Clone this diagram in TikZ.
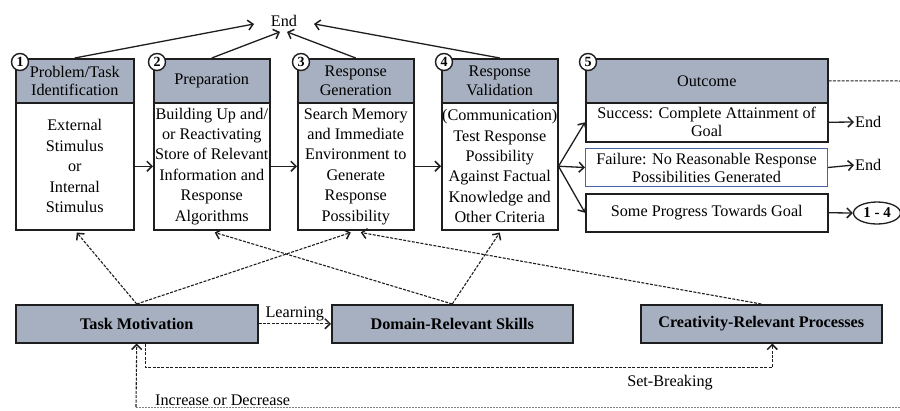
\documentclass[tikz,border=0pt]{standalone}
\usepackage{fontspec}
\setmainfont{Liberation Serif}
\usetikzlibrary{arrows.meta,calc,shapes.geometric}
\definecolor{hdrfill}{RGB}{166,176,192}
\definecolor{ink}{RGB}{30,30,30}
\definecolor{failblue}{RGB}{70,100,165}
\definecolor{faint}{RGB}{130,130,130}
\newcommand{\bodyfont}{\fontsize{16.2}{20.4}\selectfont}
\newcommand{\hdrfont}{\fontsize{16.2}{18.5}\selectfont}
\newcommand{\outfont}{\fontsize{16.2}{18}\selectfont}

\begin{document}
\begin{tikzpicture}[x=1pt,y=-1pt,
  box/.style={draw=ink, line width=1.5pt, anchor=north west, align=center, inner sep=0pt},
  hdr/.style={box, fill=hdrfill, font=\hdrfont},
  stagebody/.style={box, fill=white, font=\bodyfont, minimum height=127pt},
  outbox/.style={box, fill=white, font=\outfont, minimum width=242pt},
  factor/.style={box, fill=hdrfill, font=\bodyfont\bfseries, minimum width=241pt, minimum height=38pt},
  num/.style={circle, draw=ink, fill=white, line width=1.4pt, minimum size=17pt, inner sep=0pt, font=\fontsize{14}{14}\selectfont\bfseries},
  lbl/.style={font=\bodyfont, inner sep=1pt},
  tip/.tip={Straight Barb[length=5pt,width=10pt,line width=1.5pt]},
  arr/.style={draw=ink, line width=1.3pt, -tip},
  darr/.style={draw=ink, line width=1.1pt, dash pattern=on 3pt off 1.4pt, -tip},
]
\useasboundingbox (0,0) rectangle (900,410);

% ---- stages 1-4: header over body ----
\node[stagebody, minimum width=118pt] (b1) at (15,102) {External\\Stimulus\\or\\Internal\\Stimulus};
\node[stagebody, minimum width=116pt] (b2) at (153,102) {Building Up and/\\or Reactivating\\Store of Relevant\\Information and\\Response\\Algorithms};
\node[stagebody, minimum width=116pt] (b3) at (297,102) {Search Memory\\and Immediate\\Environment to\\Generate\\Response\\Possibility};
\node[stagebody, minimum width=116pt] (b4) at (441,102) {(Communication)\\Test Response\\Possibility\\Against Factual\\Knowledge and\\Other Criteria};

\node[hdr, minimum width=118pt, minimum height=44pt] (h1) at (15,58) {Problem/Task\\Identification};
\node[hdr, minimum width=116pt, minimum height=44pt] (h2) at (153,58) {Preparation};
\node[hdr, minimum width=116pt, minimum height=44pt] (h3) at (297,58) {Response\\Generation};
\node[hdr, minimum width=116pt, minimum height=44pt] (h4) at (441,58) {Response\\Validation};

% ---- stage 5: outcome ----
\node[hdr, minimum width=242pt, minimum height=44pt] (h5) at (585,58) {Outcome};
\node[outbox, minimum height=39pt] (succ) at (585,102) {Success: Complete Attainment of\\Goal};
\node[outbox, minimum height=38pt, draw=failblue, line width=1pt] (fail) at (585,148) {Failure: No Reasonable Response\\Possibilities Generated};
\node[outbox, minimum height=38pt] (prog) at (585,193) {Some Progress Towards Goal};

% ---- stage numbers ----
\node[num] (n1) at (20,62) {1};
\node[num] (n2) at (157,62) {2};
\node[num] (n3) at (301,62) {3};
\node[num] (n4) at (444,62) {4};
\node[num] (n5) at (588,62) {5};

% ---- end points ----
\node[lbl] (endtop) at (284,21) {End};
\node[lbl, anchor=west] (end1) at (854,122) {End};
\node[lbl, anchor=west] (end2) at (854,165) {End};
\node[ellipse, draw=ink, line width=1.3pt, minimum width=47pt, minimum height=22pt, inner sep=0pt,
      font=\fontsize{15}{15}\selectfont\bfseries] (again) at (877,213) {1 - 4};
\coordinate (loopout) at (900,81);

% ---- components ----
\node[factor, minimum width=242pt] (tm) at (15,304) {Task Motivation};
\node[factor] (drs) at (331,304) {Domain-Relevant Skills};
\node[factor] (crp) at (640,304) {Creativity-Relevant Processes};

% ---- main flow ----
\draw[arr] (b1.east) -- (b2.west);
\draw[arr] (b2.east) -- (b3.west);
\draw[arr] (b3.east) -- (b4.west);
\draw[arr] (b4.east) -- (succ.west);
\draw[arr] (b4.east) -- (fail.west);
\draw[arr] (b4.east) -- (prog.west);
\draw[arr] (succ.east) -- (end1.west);
\draw[arr] (fail.east) -- (end2.west);
\draw[arr] (prog.east) -- (again.west);
\draw[draw=ink, line width=1pt, dash pattern=on 3pt off 1.4pt] (h5.east) -- (loopout);

% ---- exits to End ----
\draw[arr, shorten >=16pt] (h1.north) -- (endtop.west);
\draw[arr] (h2.north) -- ($(endtop.south)+(-4,4)$);
\draw[arr] (h3.north) -- ($(endtop.south)+(3,4)$);
\draw[arr, shorten >=16pt] (h4.north) -- (endtop.east);

% ---- component influences ----
\draw[darr] (tm.north) -- ($(b1.south)+(2,2)$);
\draw[darr] (tm.north) -- ($(b3.south)+(-5,2)$);
\draw[darr] (drs.north) -- ($(b2.south)+(3,2)$);
\draw[darr] (drs.north) -- ($(b4.south)+(0,2)$);
\draw[darr] (crp.north) -- ($(b3.south)+(5,2)$);

\draw[darr] (tm.east) -- node[lbl, above=1pt] {Learning} (drs.west);
\draw[darr] ($(tm.south)+(9,0)$) |- ($(crp.south)+(11,24)$) -- ($(crp.south)+(11,0)$);
\node[lbl] (setb) at (670,383) {Set-Breaking};

\coordinate (fbright) at (900,407);
\coordinate (fbleft) at (136,407);
\draw[draw=faint, line width=0.8pt, dash pattern=on 2pt off 1pt] (fbright) -- (fbleft);
\draw[darr] (fbleft) -- (tm.south);
\node[lbl, anchor=west] (incdec) at (154,400) {Increase or Decrease};
\end{tikzpicture}
\end{document}
